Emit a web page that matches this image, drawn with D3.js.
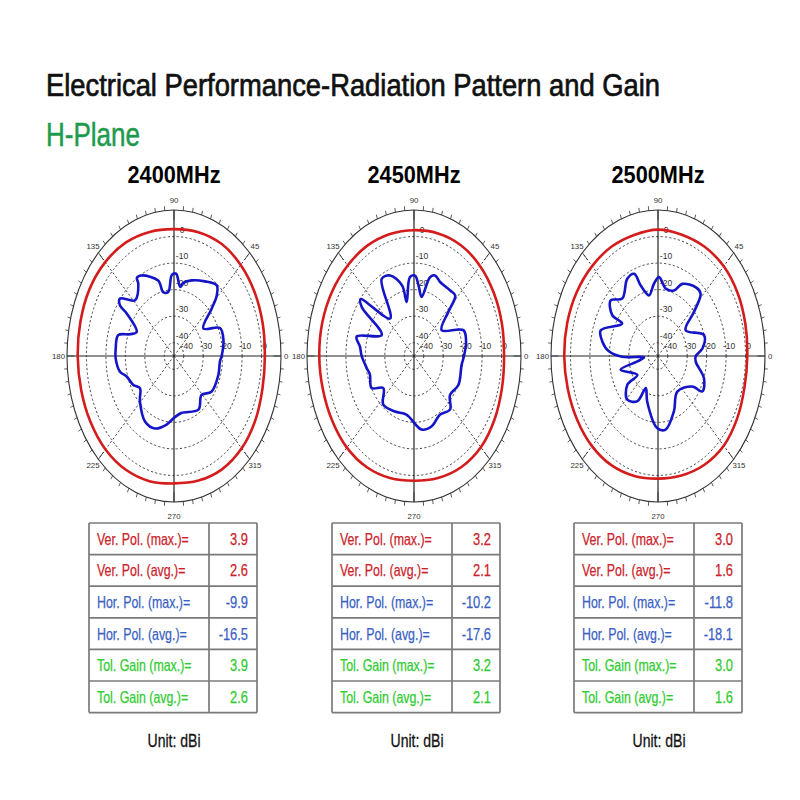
<!DOCTYPE html>
<html><head><meta charset="utf-8">
<script src="https://cdn.jsdelivr.net/npm/d3@7"></script>
<style>body{margin:0;background:#fff}</style>
</head><body>
<svg id="c" width="800" height="800"></svg>
<script>
// ---------------- data ----------------
const titleText = "Electrical Performance-Radiation Pattern and Gain";
const planeText = "H-Plane";
const frequencies = ["2400MHz", "2450MHz", "2500MHz"];
const ringTicks = [-40, -30, -20, -10, 0];
const radialDomain = [-45, 10];
const angleTicks = [0, 45, 90, 135, 180, 225, 270, 315];

// Vertical polarisation (red), dBi
const redAngles = [0,15,30,45,60,75,90,105,120,135,150,165,180,195,210,225,240,255,270,285,300,315,330,345];
const red2400 = [1.7,2.2,2.9,3.5,3.8,3.3,2.8,3.4,4.4,5.0,5.2,4.8,4.5,4.4,4.6,4.8,4.5,3.8,3.0,3.6,4.3,4.2,3.3,2.1];
const red2450 = [1.3,1.8,2.4,3.0,3.2,2.8,2.4,2.6,3.0,3.2,3.6,3.8,3.7,3.5,3.6,3.8,3.4,2.6,2.0,2.6,3.4,3.6,2.8,1.8];
const red2500 = [0.9,1.5,2.3,2.8,2.6,2.3,2.6,2.2,2.6,2.9,3.2,3.3,3.2,3.0,3.0,3.0,2.6,1.8,1.2,1.6,2.4,2.8,2.0,1.0];

// Horizontal polarisation (blue), dBi
const blueAngles2400 = [0,13,24,34.5,42.7,46,50.5,60.5,72.3,80,83,88,92,97,103,106,118.7,122.9,124,133.6,142,145.5,146.6,154.6,160,164.6,174.5,181.7,192,197.6,207.5,214.7,224.3,238.8,250.3,261.6,270,280,301.8,314,325,342.7,355];
const blue2400 = [-20.5,-18.9,-19.1,-26.7,-18.6,-13.4,-10.5,-12.7,-15.1,-17,-18.8,-14,-14.4,-20.7,-20.3,-15.4,-10.4,-9.9,-12.2,-16,-9.8,-11.3,-15.9,-23.8,-21,-15.3,-14.9,-15,-16.6,-19.5,-21.4,-23.7,-20.5,-16.2,-16,-18.9,-21.7,-23.2,-21.2,-24.6,-21.5,-21.1,-21.3];
const blueAngles2450 = [0,11.4,21,34.4,43.3,47,53,64,70.4,74.5,80,85,89,94,100.5,103,112,119.7,131,142,145.5,154.5,166,172.8,180,190.7,197,209,217.5,229.3,245,260,278,289,301,312.5,321.7,334.4,352];
const blue2450 = [-19.3,-17.7,-17.8,-27.8,-20.8,-13.9,-14.1,-14.1,-12.8,-14.2,-22.4,-18.3,-14.7,-15.2,-24.3,-17.7,-12.3,-11.5,-26.3,-10.2,-12.4,-26.6,-14.6,-17,-18.1,-20.3,-21.3,-20.1,-25.1,-20.8,-21.9,-22.6,-17,-17,-19.2,-17.6,-21.4,-19.7,-20.3];
const blueAngles2500 = [0,7,18.5,34.4,41.9,47,53,65.3,71.6,81,89,94.4,101.4,108.5,111.6,118.5,130.4,139.2,146.8,146.5,161.8,169.3,176,181,184,191,195,213.8,214.6,226.2,238,242.5,252,269,278,291.4,306.5,326.8,329.6,340.4,353.8];
const blue2500 = [-25.6,-22,-20.1,-27.8,-20.1,-12.9,-12.6,-15.1,-19,-19.3,-15.3,-17.7,-21.7,-17,-11.7,-11.9,-16.6,-12.9,-16.9,-22.9,-14,-15.9,-19.7,-26.6,-37.8,-34.2,-25.1,-32.2,-25.8,-22.2,-24.9,-31.4,-27,-17.9,-17,-22.6,-28.3,-24,-18.6,-19.9,-25.5];

// Summary tables
const tableLabels = ["Ver. Pol. (max.)=", "Ver. Pol. (avg.)=", "Hor. Pol. (max.)=", "Hor. Pol. (avg.)=", "Tol. Gain (max.)=", "Tol. Gain (avg.)="];
const tableValues2400 = ["3.9", "2.6", "-9.9", "-16.5", "3.9", "2.6"];
const tableValues2450 = ["3.2", "2.1", "-10.2", "-17.6", "3.2", "2.1"];
const tableValues2500 = ["3.0", "1.6", "-11.8", "-18.1", "3.0", "1.6"];
const unitText = "Unit: dBi";

// ---------------- drawing ----------------
const svg = d3.select("#c");
const FONT = "'Liberation Sans', Arial, sans-serif";
const rowColors = ["#cc2229", "#cc2229", "#3a5fc4", "#3a5fc4", "#2fcc2f", "#2fcc2f"];

function condense(sel, f) {
  sel.each(function () {
    const L = this.getComputedTextLength();
    d3.select(this).attr("textLength", L * f).attr("lengthAdjust", "spacingAndGlyphs");
  });
}
function fitWidth(sel, w) {
  sel.attr("textLength", w).attr("lengthAdjust", "spacingAndGlyphs");
}

svg.append("text").attr("x", 46).attr("y", 96)
  .attr("font-family", FONT).attr("font-size", 31).attr("fill", "#111")
  .attr("stroke", "#111").attr("stroke-width", 0.7)
  .text(titleText).call(fitWidth, 614);

svg.append("text").attr("x", 46).attr("y", 146)
  .attr("font-family", FONT).attr("font-size", 34).attr("fill", "#1e9a4c")
  .attr("stroke", "#1e9a4c").attr("stroke-width", 0.5)
  .text(planeText).call(fitWidth, 94);

const charts = [
  { freq: frequencies[0], cx: 174, redA: redAngles, red: red2400, blueA: blueAngles2400, blue: blue2400, vals: tableValues2400, tx: 89 },
  { freq: frequencies[1], cx: 414, redA: redAngles, red: red2450, blueA: blueAngles2450, blue: blue2450, vals: tableValues2450, tx: 332 },
  { freq: frequencies[2], cx: 658, redA: redAngles, red: red2500, blueA: blueAngles2500, blue: blue2500, vals: tableValues2500, tx: 574 }
];

const cy = 356, RX = 107, RY = 146;
const r = d3.scaleLinear().domain(radialDomain).range([0, 1]);
const theta = d3.scaleLinear().domain([0, 360]).range([0, 2 * Math.PI]);

charts.forEach(c => {
  const g = svg.append("g");
  const px = (a, v) => c.cx + RX * r(v) * Math.cos(theta(a));
  const py = (a, v) => cy - RY * r(v) * Math.sin(theta(a));

  // frequency label
  svg.append("text").attr("x", c.cx).attr("y", 183).attr("text-anchor", "middle")
    .attr("font-family", FONT).attr("font-weight", "bold").attr("font-size", 23).attr("fill", "#000")
    .text(c.freq).call(fitWidth, 93);

  // dashed rings
  g.selectAll("ellipse.ring").data(ringTicks).join("ellipse")
    .attr("cx", c.cx).attr("cy", cy)
    .attr("rx", d => RX * r(d)).attr("ry", d => RY * r(d))
    .attr("fill", "none").attr("stroke", "#333").attr("stroke-width", 0.9)
    .attr("stroke-dasharray", "2.2,2.2");

  // dashed diagonal spokes
  g.selectAll("line.spoke").data([45, 135, 225, 315]).join("line")
    .attr("x1", c.cx).attr("y1", cy)
    .attr("x2", d => px(d, radialDomain[1])).attr("y2", d => py(d, radialDomain[1]))
    .attr("stroke", "#333").attr("stroke-width", 0.9).attr("stroke-dasharray", "2.2,2.2");

  // solid axes
  g.append("line").attr("x1", px(180, 10)).attr("y1", cy).attr("x2", px(0, 10)).attr("y2", cy)
    .attr("stroke", "#222").attr("stroke-width", 1.2);
  g.append("line").attr("x1", c.cx).attr("y1", py(90, 10)).attr("x2", c.cx).attr("y2", py(270, 10))
    .attr("stroke", "#222").attr("stroke-width", 1.2);

  // outer ring
  g.append("ellipse").attr("cx", c.cx).attr("cy", cy).attr("rx", RX).attr("ry", RY)
    .attr("fill", "none").attr("stroke", "#333").attr("stroke-width", 1.1);

  // small ticks every 5 degrees
  const tickAngles = d3.range(0, 360, 5);
  g.selectAll("line.tick").data(tickAngles).join("line")
    .attr("x1", d => px(d, 10)).attr("y1", d => py(d, 10))
    .attr("x2", d => c.cx + RX * (d % 45 === 0 ? 0.93 : 1.03) * Math.cos(theta(d)))
    .attr("y2", d => cy - RY * (d % 45 === 0 ? 0.93 : 1.03) * Math.sin(theta(d)))
    .attr("stroke", "#333").attr("stroke-width", 0.8);

  // angle labels
  g.selectAll("text.ang").data(angleTicks).join("text")
    .attr("x", d => d === 0 ? px(0, 10) + 3 : d === 180 ? px(180, 10) - 2 : c.cx + RX * 1.07 * Math.cos(theta(d)))
    .attr("y", d => cy - RY * (d === 270 ? 1.1 : 1.065) * Math.sin(theta(d)))
    .attr("text-anchor", d => d === 0 ? "start" : d === 180 ? "end" : "middle")
    .attr("dominant-baseline", "central")
    .attr("font-family", FONT).attr("font-size", 7.8).attr("fill", "#333")
    .text(d => d);

  // radial labels along 0 deg
  g.selectAll("text.rl").data(ringTicks).join("text")
    .attr("x", d => px(0, d) + 3).attr("y", cy - 7)
    .attr("text-anchor", "middle")
    .attr("font-family", FONT).attr("font-size", 8.5).attr("fill", "#333")
    .text(d => d);
  // radial labels along 90 deg
  g.selectAll("text.rv").data(ringTicks).join("text")
    .attr("x", c.cx + 8).attr("y", d => py(90, d) - 4)
    .attr("text-anchor", "middle")
    .attr("font-family", FONT).attr("font-size", 8.5).attr("fill", "#333")
    .text(d => d);

  const line = d3.line()
    .x(d => px(d[0], d[1])).y(d => py(d[0], d[1]))
    .curve(d3.curveCatmullRomClosed.alpha(0.5));

  g.append("path").datum(c.redA.map((a, i) => [a, c.red[i]]))
    .attr("d", line).attr("fill", "none").attr("stroke", "#d41c1c").attr("stroke-width", 2.6);
  g.append("path").datum(c.blueA.map((a, i) => [a, c.blue[i]]))
    .attr("d", line).attr("fill", "none").attr("stroke", "#1515c8").attr("stroke-width", 2.6)
    .attr("stroke-linejoin", "round");

  // table
  const tw = 168, dv = 120, ty = 523, rh = 31.6;
  const tg = svg.append("g");
  const rows = d3.range(tableLabels.length);
  tg.selectAll("line.h").data(d3.range(tableLabels.length + 1)).join("line")
    .attr("x1", c.tx).attr("x2", c.tx + tw)
    .attr("y1", d => ty + d * rh).attr("y2", d => ty + d * rh)
    .attr("stroke", "#7a7a7a").attr("stroke-width", 1.7);
  [0, dv, tw].forEach(x => tg.append("line")
    .attr("x1", c.tx + x).attr("x2", c.tx + x).attr("y1", ty).attr("y2", ty + rh * tableLabels.length)
    .attr("stroke", "#7a7a7a").attr("stroke-width", 1.7));
  tg.selectAll("text.lab").data(rows).join("text")
    .attr("x", c.tx + 8).attr("y", d => ty + d * rh + rh / 2 + 6)
    .attr("font-family", FONT).attr("font-size", 16.5).attr("fill", d => rowColors[d])
    .attr("stroke", d => rowColors[d]).attr("stroke-width", 0.25)
    .text(d => tableLabels[d]).call(condense, 0.75);
  tg.selectAll("text.val").data(rows).join("text")
    .attr("x", c.tx + tw - 9).attr("y", d => ty + d * rh + rh / 2 + 6)
    .attr("text-anchor", "end")
    .attr("font-family", FONT).attr("font-size", 16.5).attr("fill", d => rowColors[d])
    .attr("stroke", d => rowColors[d]).attr("stroke-width", 0.25)
    .text(d => c.vals[d]).call(condense, 0.78);
  svg.append("text").attr("x", c.tx + tw / 2 + 1).attr("y", 747).attr("text-anchor", "middle")
    .attr("font-family", FONT).attr("font-size", 19).attr("fill", "#111")
    .attr("stroke", "#111").attr("stroke-width", 0.3)
    .text(unitText).call(fitWidth, 53);
});
</script>
</body></html>
